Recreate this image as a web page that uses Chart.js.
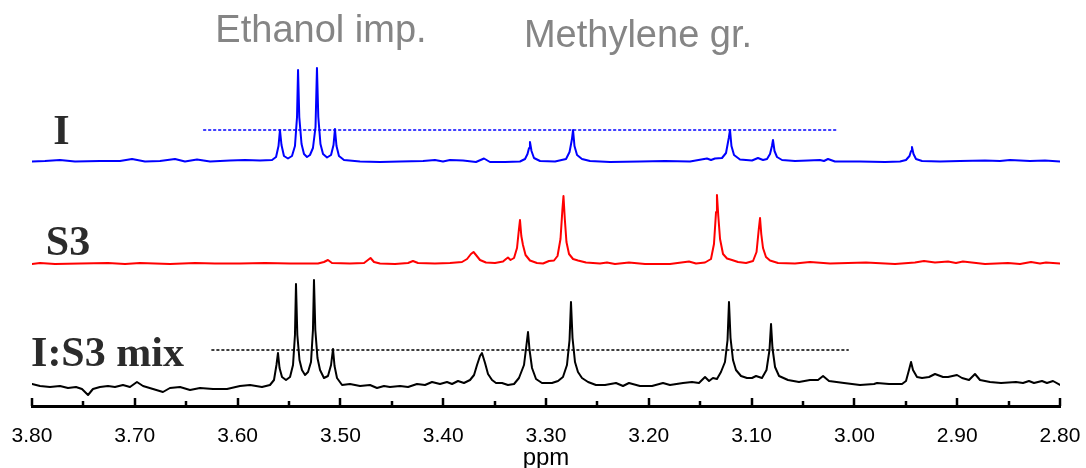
<!DOCTYPE html>
<html>
<head>
<meta charset="utf-8">
<script src="https://cdn.jsdelivr.net/npm/chart.js@4.4.0/dist/chart.umd.min.js"></script>
<style>
  html, body { margin: 0; padding: 0; background: #fff; }
  #wrap { width: 1086px; height: 468px; }
</style>
</head>
<body>
<div id="wrap"><canvas id="nmr"></canvas></div>
<script>
// spectrum I (blue), ppm and intensity above its own baseline
var iPpm = [3.8000, 3.7874, 3.7728, 3.7582, 3.7339, 3.7144, 3.7027, 3.6901, 3.6755, 3.6609, 3.6512, 3.6395, 3.6268, 3.6074, 3.5928, 3.5782,
  3.5665, 3.5626, 3.5602, 3.5588, 3.5573, 3.5549, 3.5510, 3.5471, 3.5442, 3.5422, 3.5412, 3.5400, 3.5378, 3.5354, 3.5325,
  3.5296, 3.5267, 3.5242, 3.5228, 3.5215, 3.5194, 3.5169, 3.5130, 3.5091, 3.5067, 3.5053, 3.5038, 3.5014, 3.4965,
  3.4809, 3.4615, 3.4420, 3.4196, 3.4080, 3.4002, 3.3934, 3.3807, 3.3681, 3.3603, 3.3545, 3.3399, 3.3253,
  3.3204, 3.3180, 3.3165, 3.3156, 3.3141, 3.3117, 3.3058, 3.2912, 3.2805, 3.2771, 3.2749, 3.2737, 3.2723, 3.2698, 3.2650, 3.2572,
  3.2377, 3.2086, 3.1842, 3.1599, 3.1434, 3.1395, 3.1356, 3.1288, 3.1249, 3.1222, 3.1210, 3.1196, 3.1171, 3.1113, 3.0996,
  3.0938, 3.0889, 3.0850, 3.0821, 3.0802, 3.0792, 3.0777, 3.0753, 3.0704, 3.0578, 3.0451, 3.0335, 3.0296, 3.0257, 3.0189,
  2.9946, 2.9702, 2.9556, 2.9498, 2.9464, 2.9449, 2.9440, 2.9425, 2.9401, 2.9342, 2.9167, 2.8973, 2.8730, 2.8584, 2.8486,
  2.8292, 2.8146, 2.8000];
var iInt = [0.5, 1, 2, 0.5, 1, 1, 3, 0.5, 1, 3, 0.5, 2.5, 0.5, 1.5, 2, 1.5,
  2, 5, 16, 32, 17, 6, 3.5, 6, 16, 45, 92, 45, 18, 8, 5,
  7, 14, 35, 94, 45, 18, 8, 4.5, 7, 17, 33, 16, 6, 2,
  0.5, 0, 0.5, 1, 2, 0.5, 2, 1.5, 0, 3.5, 0, 0, 0.5,
  3, 8, 14, 20, 11, 4, 1, 0.5, 3, 10, 22, 32, 16, 7, 3, 1,
  0, 0.5, 1, 0.5, 3.5, 2, 3.5, 4, 9, 24, 32, 16, 7, 2.5, 1.5,
  4, 2, 3, 8, 16, 22, 11, 5, 2, 1, 1.5, 2, 1, 3, 0.5,
  0.5, 0, 0.5, 2, 6, 11, 15, 8, 3, 1, 0.5, 1, 1.5, 1, 2,
  1, 1.5, 0.5];

// spectrum S3 (red)
var s3Ppm = [3.8000, 3.7922, 3.7776, 3.7533, 3.7261, 3.7095, 3.6949, 3.6658, 3.6414, 3.6220, 3.5977, 3.5733, 3.5490,
  3.5218, 3.5160, 3.5121, 3.5082, 3.4907, 3.4770, 3.4732, 3.4707, 3.4673, 3.4615, 3.4469, 3.4342, 3.4294, 3.4245, 3.4080,
  3.3934, 3.3817, 3.3768, 3.3730, 3.3705, 3.3681, 3.3642, 3.3584, 3.3496, 3.3418, 3.3389, 3.3370, 3.3345,
  3.3311, 3.3282, 3.3263, 3.3253, 3.3240, 3.3224, 3.3199, 3.3156, 3.3088, 3.3029, 3.2971, 3.2922,
  3.2888, 3.2859, 3.2840, 3.2830, 3.2817, 3.2801, 3.2776, 3.2737, 3.2689, 3.2611, 3.2475, 3.2407, 3.2329, 3.2193, 3.2037,
  3.1794, 3.1609, 3.1541, 3.1453, 3.1395, 3.1366, 3.1346, 3.1337, 3.1324, 3.1307, 3.1278, 3.1239, 3.1191, 3.1132, 3.1054,
  3.0986, 3.0952, 3.0930, 3.0918, 3.0906, 3.0889, 3.0860, 3.0821, 3.0743, 3.0578, 3.0432, 3.0237, 2.9887, 2.9605,
  2.9411, 2.9323, 2.9216, 2.9089, 2.9012, 2.8944, 2.8730, 2.8506, 2.8389, 2.8282, 2.8195, 2.8136, 2.8000];
var s3Int = [0, 1, 0, 0.5, 1, 0, 1, 0, 1, 0.5, 0.5, 1, 0.5,
  0.5, 2, 4, 1, 0.5, 1, 4, 6, 2, 0.5, 0, 1, 3, 1, 0.5,
  1, 2, 5, 10, 12, 9, 4, 1.5, 1, 2.5, 5, 6.5, 4,
  6, 16, 35, 44, 28, 19, 9, 3.5, 1, 0.5, 3, 3.5,
  8, 25, 55, 68, 45, 22, 10, 5, 3.5, 1.5, 0.5, 1.5, 0, 1.5, 0,
  0, 2.5, 0.5, 1.5, 5, 20, 52, 69, 48, 25, 10, 5.5, 4, 2, 1,
  3, 12, 35, 46, 30, 16, 7, 3.5, 1, 0.5, 2, 0.5, 1.5, 0,
  1.5, 3, 1.5, 2.5, 1, 2.5, 0, 1, 0, 2, 0.5, 1.5, 0.5];

// spectrum I:S3 mix (black)
var mixPpm = [3.8000, 3.7922, 3.7825, 3.7728, 3.7650, 3.7572, 3.7514, 3.7455, 3.7407, 3.7339, 3.7261, 3.7193, 3.7115,
  3.7047, 3.6979, 3.6920, 3.6823, 3.6726, 3.6658, 3.6560, 3.6463, 3.6366, 3.6239, 3.6103, 3.5977, 3.5879, 3.5763,
  3.5685, 3.5646, 3.5622, 3.5607, 3.5592, 3.5568, 3.5529, 3.5490, 3.5461, 3.5442, 3.5432, 3.5419, 3.5398, 3.5374,
  3.5344, 3.5315, 3.5286, 3.5267, 3.5257, 3.5244, 3.5223, 3.5198, 3.5160, 3.5121, 3.5091, 3.5072, 3.5057, 3.5033,
  3.4984, 3.4907, 3.4809, 3.4712, 3.4644, 3.4576, 3.4518, 3.4420, 3.4342, 3.4255, 3.4177, 3.4109, 3.4031, 3.3963,
  3.3914, 3.3856, 3.3798, 3.3739, 3.3700, 3.3671, 3.3642, 3.3623, 3.3593, 3.3564, 3.3525, 3.3486, 3.3428, 3.3370,
  3.3311, 3.3263, 3.3214, 3.3190, 3.3175, 3.3160, 3.3136, 3.3097, 3.3039, 3.2942, 3.2883, 3.2835, 3.2796, 3.2771,
  3.2757, 3.2742, 3.2718, 3.2689, 3.2650, 3.2591, 3.2514, 3.2426, 3.2319, 3.2251, 3.2193, 3.2086, 3.1969, 3.1862,
  3.1794, 3.1667, 3.1580, 3.1512, 3.1453, 3.1414, 3.1376, 3.1337, 3.1298, 3.1259, 3.1234, 3.1220, 3.1205, 3.1181,
  3.1152, 3.1103, 3.1045, 3.0996, 3.0957, 3.0899, 3.0855, 3.0826, 3.0811, 3.0797, 3.0772, 3.0733, 3.0646, 3.0539,
  3.0432, 3.0354, 3.0305, 3.0247, 3.0101, 2.9946, 2.9809, 2.9780, 2.9663, 2.9537, 2.9498, 2.9469, 2.9449, 2.9430,
  2.9391, 2.9342, 2.9274, 2.9216, 2.9138, 2.9089, 2.9002, 2.8953, 2.8885, 2.8827, 2.8778, 2.8681, 2.8574, 2.8428,
  2.8360, 2.8302, 2.8253, 2.8175, 2.8127, 2.8068, 2.8000];
var mixInt = [3, 1, 0, 1, -1, 0, -2, -8, -2, 0, 1, 0, 2,
  0, 5, 1, -2, -5, -1, 0, -3, -1, -2, -2, 1, 2, 0,
  2, 7, 22, 34, 19, 10, 7, 10, 22, 52, 103, 52, 27, 17,
  12, 15, 25, 57, 107, 57, 29, 17, 9, 11, 22, 38, 21, 9,
  2, 3, 1, 2, -1, 1, 0, 1, 0, 3, 2, 5, 3, 5,
  3, 6, 4, 7, 12, 22, 31, 34, 24, 13, 7, 4, 4, 2,
  3, 9, 22, 42, 55, 37, 19, 8, 4, 4, 6, 10, 22, 47,
  85, 49, 25, 15, 9, 5, 2, 2, 4, 1, 4, 1, 1, 4,
  2, 4, 5, 4, 10, 6, 9, 8, 15, 25, 47, 85, 49, 27,
  17, 11, 9, 9, 11, 9, 17, 37, 63, 39, 20, 11, 7, 5,
  7, 7, 11, 6, 4, 2, 3, 4, 3, 3, 6, 17, 25, 17,
  10, 9, 10, 13, 10, 10, 12, 9, 7, 13, 7, 5, 4, 5,
  4, 6, 4, 6, 4, 6, 2];

// vertical offsets of the stacked traces
var iBase = 244;
var s3Base = 142;
var mixBase = 19;

// dotted reference lines (ppm from, ppm to) and their height above baseline
var iRefPpm = [3.633, 3.018];
var iRefH = 32;
var mixRefPpm = [3.625, 3.006];
var mixRefH = 37;

// text
var sampleNames = ['I', 'S3', 'I:S3 mix'];
var sampleNamePpm = [3.7713, 3.7650, 3.7266];
var sampleNameY = [262, 151, 40];
var groupNames = ['Ethanol imp.', 'Methylene gr.'];
var groupPpm = [3.5189, 3.2105];
var groupY = [364, 359];

function toPoints(ppm, vals, base) {
  var out = [];
  for (var k = 0; k < ppm.length; k++) {
    out.push({ x: ppm[k], y: vals[k] + base });
  }
  return out;
}

function refLine(range, h, base) {
  return [{ x: range[0], y: h + base }, { x: range[1], y: h + base }];
}

var textPlugin = {
  id: 'nmrText',
  afterDatasetsDraw: function (chart) {
    var ctx = chart.ctx;
    var xs = chart.scales.x;
    var ys = chart.scales.y;
    var bottom = chart.chartArea.bottom;
    ctx.save();
    // tick marks standing on the axis line
    ctx.strokeStyle = '#000';
    ctx.lineWidth = 2.5;
    xs.ticks.forEach(function (t, k) {
      var px = Math.round(xs.getPixelForTick(k));
      var major = Math.round(t.value * 100) % 10 === 0;
      ctx.beginPath();
      ctx.moveTo(px, bottom);
      ctx.lineTo(px, bottom - (major ? 8 : 5));
      ctx.stroke();
    });
    ctx.textAlign = 'center';
    ctx.textBaseline = 'alphabetic';
    ctx.fillStyle = '#2b2b2b';
    ctx.font = 'bold 42px "Liberation Serif", "Times New Roman", serif';
    for (var k = 0; k < sampleNames.length; k++) {
      ctx.fillText(sampleNames[k], xs.getPixelForValue(sampleNamePpm[k]), ys.getPixelForValue(sampleNameY[k]));
    }
    ctx.fillStyle = '#858585';
    ctx.font = '38px "Liberation Sans", Arial, sans-serif';
    for (var j = 0; j < groupNames.length; j++) {
      ctx.fillText(groupNames[j], xs.getPixelForValue(groupPpm[j]), ys.getPixelForValue(groupY[j]));
    }
    ctx.restore();
  }
};

var ctx = document.getElementById('nmr').getContext('2d');
var chart = new Chart(ctx, {
  type: 'line',
  data: {
    datasets: [
      { label: 'I', data: toPoints(iPpm, iInt, iBase), borderColor: '#0000ff', borderWidth: 2 },
      { label: 'S3', data: toPoints(s3Ppm, s3Int, s3Base), borderColor: '#ff0000', borderWidth: 2 },
      { label: 'I:S3 mix', data: toPoints(mixPpm, mixInt, mixBase), borderColor: '#000000', borderWidth: 2 },
      { label: 'I ref', data: refLine(iRefPpm, iRefH, iBase), borderColor: '#0000ff', borderWidth: 1.5, borderDash: [2, 3] },
      { label: 'mix ref', data: refLine(mixRefPpm, mixRefH, mixBase), borderColor: '#000000', borderWidth: 1.5, borderDash: [2, 3] }
    ]
  },
  options: {
    responsive: true,
    maintainAspectRatio: false,
    animation: false,
    parsing: false,
    elements: {
      point: { radius: 0 },
      line: { tension: 0, fill: false, borderCapStyle: 'round', borderJoinStyle: 'round' }
    },
    layout: { padding: { top: 6, left: 32, right: 26, bottom: 0 } },
    plugins: {
      legend: { display: false },
      tooltip: { enabled: false }
    },
    scales: {
      x: {
        type: 'linear',
        reverse: true,
        min: 2.8,
        max: 3.8,
        afterFit: function (scale) {
          scale.paddingLeft = 0;
          scale.paddingRight = 0;
          scale.height = 62;
        },
        border: { display: true, color: '#000', width: 3 },
        grid: { display: true, drawOnChartArea: false, drawTicks: false, color: 'rgba(0,0,0,0)' },
        ticks: {
          stepSize: 0.05,
          autoSkip: false,
          maxRotation: 0,
          padding: 20,
          color: '#000',
          font: { family: '"Liberation Sans", Arial, sans-serif', size: 21, lineHeight: 1 },
          callback: function (value) {
            return Math.round(value * 100) % 10 === 0 ? value.toFixed(2) : '';
          }
        },
        title: {
          display: true,
          text: 'ppm',
          color: '#000',
          font: { family: '"Liberation Sans", Arial, sans-serif', size: 24, lineHeight: 0.8 },
          padding: { top: 0, bottom: 0 }
        }
      },
      y: {
        display: false,
        min: 0,
        max: 400
      }
    }
  },
  plugins: [textPlugin]
});
</script>
</body>
</html>
